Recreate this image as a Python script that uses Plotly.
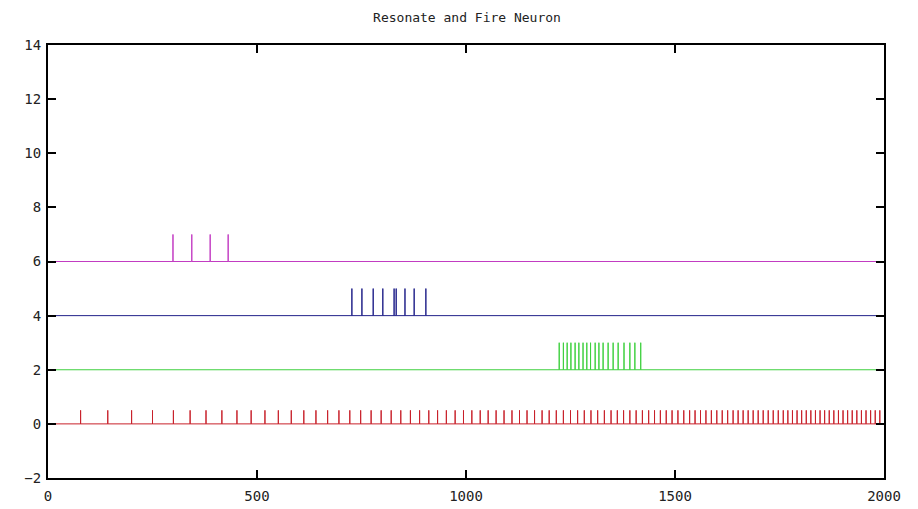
import plotly.graph_objects as go

# Spike times (ms) for each neuron trace
magenta_spikes = [299, 344, 388, 431]
blue_spikes = [727, 751, 778, 801, 828, 833, 854, 876, 904]
green_spikes = [1223, 1233, 1242, 1251, 1261, 1270, 1280, 1289, 1298, 1309,
                 1318, 1328, 1340, 1352, 1364, 1378, 1392, 1404, 1418]
red_spikes = [78, 143, 200, 250, 300, 340, 378, 416, 452, 486, 519, 551, 582,
              612, 641, 669, 696, 722, 748, 773, 797, 821, 844, 867, 889, 911,
              932, 953, 974, 994, 1014, 1034, 1053, 1072, 1091, 1110, 1128,
              1146, 1164, 1182, 1199, 1216, 1233, 1250, 1267, 1283, 1299, 1315,
              1331, 1347, 1362, 1377, 1392, 1407, 1422, 1437, 1451, 1465, 1479,
              1493, 1507, 1521, 1535, 1548, 1561, 1574, 1587, 1600, 1613, 1626,
              1639, 1651, 1663, 1675, 1687, 1699, 1711, 1723, 1735, 1747, 1759,
              1770, 1781, 1792, 1803, 1814, 1825, 1836, 1847, 1858, 1869, 1880,
              1891, 1902, 1913, 1924, 1935, 1946, 1957, 1968, 1979, 1990]

# baseline / peak levels of each trace
levels = {"magenta": (6, 7), "blue": (4, 5), "green": (2, 3), "red": (0, 0.5)}
colors = {"magenta": "#c23cc2", "blue": "#22228a", "green": "#3fd03f", "red": "#c8202a"}
t_start, t_end = 0, 2000

x_ticks = [0, 500, 1000, 1500, 2000]
y_ticks = [-2, 0, 2, 4, 6, 8, 10, 12, 14]


def trace_xy(spikes, base, peak):
    xs, ys = [t_start], [base]
    for t in spikes:
        xs += [t, t, t]
        ys += [base, peak, base]
    xs.append(t_end)
    ys.append(base)
    return xs, ys


fig = go.Figure()
for name, spikes in [("red", red_spikes), ("green", green_spikes),
                     ("blue", blue_spikes), ("magenta", magenta_spikes)]:
    b, p = levels[name]
    xs, ys = trace_xy(spikes, b, p)
    fig.add_trace(go.Scatter(x=xs, y=ys, mode="lines",
                             line=dict(color=colors[name], width=1),
                             hoverinfo="skip", showlegend=False))

axis_font = dict(family="DejaVu Sans Mono", size=14, color="#222")
fig.update_layout(
    width=918, height=509,
    margin=dict(l=40, r=42, t=37, b=39, autoexpand=False),
    paper_bgcolor="white", plot_bgcolor="white",
    title=dict(text="Resonate and Fire Neuron", x=0.5, xanchor="center",
               y=0.982, yanchor="middle",
               font=dict(family="DejaVu Sans Mono", size=13, color="#222")),
    xaxis=dict(range=[0, 2000], tickvals=x_ticks, ticks="inside", ticklen=8,
               tickwidth=2, tickcolor="black", showline=True, linecolor="black",
               linewidth=2, mirror="ticks", showgrid=False, zeroline=False,
               tickfont=axis_font, automargin=False, ticklabelstandoff=4),
    yaxis=dict(range=[-2, 14], tickvals=y_ticks, ticks="inside", ticklen=8,
               tickwidth=2, tickcolor="black", showline=True, linecolor="black",
               linewidth=2, mirror="ticks", showgrid=False, zeroline=False,
               tickfont=axis_font, automargin=False, ticklabelstandoff=2),
)

fig.write_html("out.html")
